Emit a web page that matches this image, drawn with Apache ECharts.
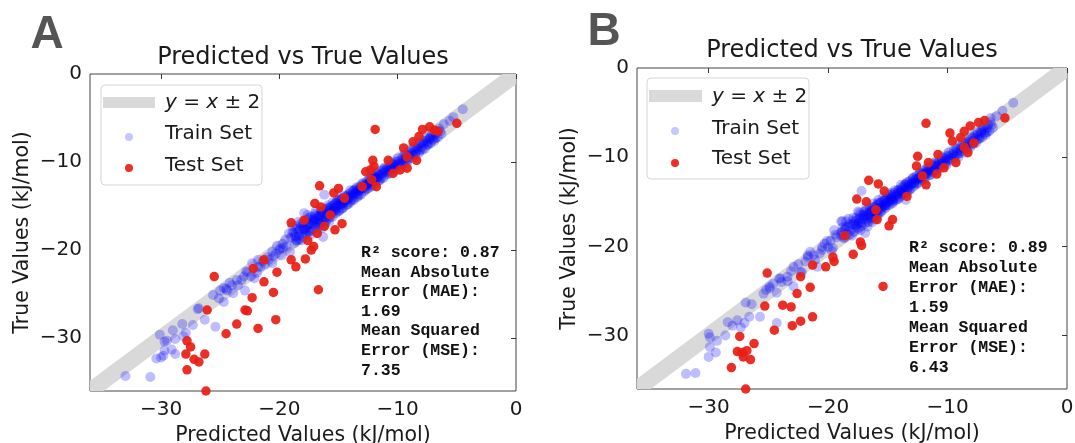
<!DOCTYPE html>
<html><head><meta charset="utf-8">
<script src="https://cdn.jsdelivr.net/npm/echarts@6/dist/echarts.min.js"></script>
<style>html,body{margin:0;padding:0;background:#fff}#c{width:1075px;height:443px}</style>
</head><body><div id="c"></div>
<script>
// ---------- data ----------
const axisRange = [-36, 0];
const tickValues = [-30, -20, -10, 0];
const bandEnds = [-36, 0];
const bandHalf = 1.15;
const panelLetters = ['A', 'B'];
const titleText = 'Predicted vs True Values';
const xLabel = 'Predicted Values (kJ/mol)';
const yLabel = 'True Values (kJ/mol)';
const legendNames = ['Train Set', 'Test Set'];
const statsA = ['R\u00b2 score: 0.87', 'Mean Absolute', 'Error (MAE):', '1.69', 'Mean Squared', 'Error (MSE):', '7.35'];
const statsB = ['R\u00b2 score: 0.89', 'Mean Absolute', 'Error (MAE):', '1.59', 'Mean Squared', 'Error (MSE):', '6.43'];

const trainA = [
[-33.0,-34.3],[-30.9,-34.4],[-30.4,-32.3],[-30.0,-32.2],[-29.8,-32.0],[-29.1,-31.3],[-28.8,-31.8],[-29.7,-31.4],
[-30.1,-29.6],[-29.7,-30.4],[-29.5,-30.3],[-29.0,-29.1],[-28.8,-30.1],[-28.1,-29.8],[-28.2,-28.4],[-27.9,-29.4],
[-27.3,-28.5],[-26.9,-26.7],[-26.8,-26.6],[-26.3,-27.9],[-25.4,-28.7],[-25.6,-25.1],[-25.1,-25.5],[-24.7,-24.3],
[-24.5,-24.4],[-24.7,-25.9],[-24.4,-24.6],[-24.0,-24.0],[-23.9,-24.9],[-23.6,-23.4],[-23.2,-23.4],[-23.0,-23.0],
[-22.9,-24.6],[-22.8,-22.4],[-22.7,-22.5],[-22.3,-21.5],[-22.1,-23.2],[-21.9,-22.6],[-21.8,-21.9],[-21.6,-21.9],
[-21.4,-21.3],[-21.0,-20.8],[-20.9,-21.1],[-20.6,-21.5],[-20.5,-20.7],[-20.3,-20.4],[-20.0,-20.0],[-19.9,-19.8],
[-19.7,-19.3],[-19.7,-19.8],[-19.4,-19.6],[-19.2,-18.1],[-19.1,-20.2],[-18.5,-18.9],[-18.6,-18.5],[-17.9,-15.8],
[-18.3,-17.7],[-16.3,-18.5],[-16.2,-13.7],[-5.3,-4.9],[-4.5,-4.0],[-5.6,-5.3],[-6.1,-5.7],
[-19.0,-18.6],[-18.8,-18.0],[-18.6,-18.9],[-18.5,-17.6],[-18.3,-18.3],[-18.2,-17.0],[-18.0,-18.5],[-18.0,-17.8],
[-17.9,-16.9],[-17.8,-18.2],[-17.7,-17.4],[-17.6,-16.5],[-17.5,-17.9],[-17.4,-17.1],[-17.3,-16.2],[-17.2,-17.6],
[-17.1,-16.8],[-17.0,-15.9],[-17.0,-17.3],[-16.9,-16.5],[-16.8,-18.0],[-16.7,-16.1],[-16.6,-17.0],[-16.5,-15.6],
[-16.4,-16.6],[-16.3,-15.9],[-16.2,-17.2],[-16.1,-16.3],[-16.0,-15.4],[-15.9,-16.0],[-15.8,-16.8],[-15.7,-15.5],
[-15.6,-15.0],[-15.5,-16.2],[-15.4,-15.3],[-15.3,-14.7],[-15.2,-15.8],[-15.1,-15.0],[-15.0,-14.4],[-14.9,-15.5],
[-14.8,-14.8],[-14.7,-14.1],[-14.6,-15.2],[-14.5,-14.5],[-14.4,-13.9],[-14.3,-14.9],[-14.2,-14.2],[-14.1,-13.6],
[-14.0,-14.6],[-13.9,-13.9],[-13.8,-13.3],[-13.7,-14.3],[-13.6,-13.6],[-13.5,-13.1],[-13.4,-14.0],[-13.3,-13.3],
[-13.2,-12.8],[-13.1,-13.7],[-13.0,-13.0],[-12.9,-12.5],[-12.8,-13.3],[-12.7,-12.7],[-12.6,-12.2],[-12.5,-13.0],
[-12.4,-12.4],[-12.3,-11.9],[-12.2,-12.8],[-12.1,-12.1],[-12.0,-11.6],[-11.9,-12.4],[-11.8,-11.8],[-11.7,-11.3],
[-11.6,-12.1],[-11.5,-11.5],[-11.3,-11.0],[-11.2,-11.8],[-11.0,-11.2],[-10.8,-10.6],[-10.7,-11.3],[-10.5,-10.8],
[-10.3,-10.3],[-10.2,-11.0],[-10.0,-10.4],[-9.8,-9.9],[-9.7,-10.5],[-9.5,-10.0],[-9.3,-9.5],[-9.2,-10.1],
[-9.0,-9.4],[-8.8,-9.0],[-8.7,-9.6],[-8.5,-8.9],[-8.3,-8.5],[-8.2,-9.0],[-8.0,-8.3],[-7.8,-7.9],
[-7.7,-8.5],[-7.5,-7.8],[-7.3,-7.4],[-7.2,-7.9],[-7.0,-7.1],[-6.8,-6.8],[-6.6,-7.2],[-6.4,-6.5],
[-18.7,-18.4],[-18.4,-17.9],[-18.1,-17.3],[-17.8,-17.6],[-17.5,-17.0],[-17.3,-17.8],[-17.1,-16.4],[-16.8,-16.9],
[-16.6,-16.2],[-16.4,-17.5],[-16.2,-15.8],[-16.0,-16.6],[-15.8,-15.2],[-15.6,-15.7],[-15.4,-14.9],[-15.2,-15.3],
[-15.0,-15.6],[-14.8,-14.3],[-14.6,-14.7],[-14.3,-14.4],[-14.0,-13.8],[-13.7,-13.5],[-13.4,-13.2],[-13.1,-12.9],
[-12.8,-12.6],[-12.5,-12.5],[-12.2,-11.9],[-11.9,-11.7],[-11.6,-11.6],[-11.3,-11.3],[-11.0,-10.9],[-10.6,-10.5],
[-10.3,-10.6],[-10.0,-9.9],[-9.6,-9.7],[-9.3,-9.2],[-9.0,-9.1],[-8.6,-8.6],[-8.3,-8.2],[-8.0,-7.9],
[-7.6,-7.6],[-7.3,-7.3],[-7.0,-7.4],[-17.6,-17.2],[-17.0,-16.6],[-16.5,-16.0],[-15.9,-15.6],[-15.3,-15.1],
[-14.7,-14.6],[-14.1,-14.0],[-13.5,-13.4],[-12.9,-12.8],[-12.3,-12.2],[-11.7,-11.8],[-11.1,-11.1],[-10.4,-10.2],
[-18.9,-17.3],[-18.7,-19.2],[-18.4,-16.8],[-18.1,-18.9],[-17.9,-17.6],[-17.6,-16.0],[-17.4,-18.3],[-17.2,-16.6],
[-16.9,-15.5],[-16.7,-17.4],[-16.5,-16.9],[-16.3,-15.3],[-16.1,-16.9],[-15.9,-14.9],[-15.7,-16.3],[-15.5,-14.6],
[-15.3,-15.5],[-15.1,-14.3],[-14.9,-14.1],[-14.7,-15.3],[-14.5,-13.8],[-14.2,-14.8],[-14.0,-13.2],[-13.8,-14.1],
[-13.5,-12.9],[-13.3,-13.8],[-13.0,-12.4],[-12.7,-13.1],[-12.4,-11.8],[-12.1,-12.6],[-11.8,-11.2],[-11.5,-12.1],
[-11.2,-10.7],[-10.9,-11.4],[-10.6,-10.1],[-10.3,-10.9],[-10.0,-9.6],[-9.7,-10.2],[-9.4,-9.1],[-9.1,-9.7],
[-8.8,-8.5],[-8.5,-9.2],[-8.2,-7.9],[-7.9,-8.6],[-7.6,-7.3],[-7.4,-8.0],[-7.1,-6.8],[-6.8,-7.3],
[-6.5,-6.2],[-6.3,-6.8],[-19.5,-18.8],[-19.8,-20.6],[-20.2,-19.5],[-20.6,-20.2],[-21.2,-21.6],[-21.8,-21.1],
[-22.4,-23.0],[-23.5,-24.0],[-24.2,-23.7],[-25.0,-24.6],
[-18.9,-18.0],[-18.6,-17.3],[-18.3,-18.8],[-18.0,-16.9],[-17.7,-18.0],[-17.5,-16.3],[-17.2,-17.1],[-16.9,-16.1],
[-16.7,-16.6],[-16.4,-15.7],[-16.2,-16.4],[-15.9,-15.2],[-15.7,-15.9],[-15.4,-15.6],[-15.2,-14.6],[-14.9,-14.8],
[-14.7,-14.9],[-14.4,-14.3],[-14.2,-13.8],[-13.9,-14.3],[-13.7,-13.2],[-13.4,-13.6],[-13.2,-13.2],[-12.9,-13.0],
[-12.6,-12.5],[-12.3,-12.6],[-12.0,-12.0],[-11.7,-11.5],[-11.4,-11.8],[-11.1,-10.8],[-10.8,-11.0],[-10.5,-10.5],
[-10.2,-10.0],[-9.9,-10.2],[-9.6,-9.4],[-9.3,-9.8],[-9.0,-8.8],[-8.7,-9.2],[-8.4,-8.4],[-8.1,-8.7],
[-7.8,-7.6],[-7.5,-8.1],[-7.2,-7.0],[-6.9,-7.6],[-6.7,-6.5]
];
const testA = [
[-11.9,-6.3],[-5.0,-5.6],[-25.5,-23.0],[-26.1,-26.8],[-27.8,-30.3],[-27.5,-31.0],[-27.9,-31.8],[-27.2,-32.4],
[-26.8,-32.7],[-26.3,-31.8],[-27.8,-33.6],[-26.2,-36.0],[-26.6,-36.2],[-24.5,-29.5],[-23.6,-28.4],[-22.9,-26.8],
[-22.7,-26.9],[-22.3,-25.4],[-21.8,-28.9],[-22.2,-22.1],[-21.3,-23.6],[-21.3,-21.1],[-20.5,-24.8],[-20.3,-27.9],
[-20.2,-22.5],[-19.0,-21.1],[-18.6,-21.9],[-17.8,-21.0],[-17.3,-20.0],[-17.1,-19.6],[-16.7,-24.5],[-19.0,-16.9],
[-17.6,-18.9],[-16.6,-12.7],[-17.0,-14.7],[-16.5,-15.1],[-15.7,-16.0],[-14.7,-17.0],[-15.3,-17.7],[-16.2,-17.3],
[-15.4,-13.5],[-15.0,-13.0],[-14.5,-14.1],[-17.9,-16.6],[-16.8,-18.1],[-12.0,-10.5],[-11.8,-12.8],[-12.2,-12.0],
[-12.3,-10.9],[-12.1,-9.8],[-10.8,-9.8],[-10.4,-11.3],[-9.8,-10.9],[-9.2,-10.7],[-9.5,-8.4],[-9.2,-9.4],
[-8.4,-9.8],[-8.7,-7.7],[-7.3,-6.0],[-6.9,-6.4],[-7.9,-6.3],[-8.2,-7.1],[-6.6,-6.5],[-13.0,-12.8],[-12.7,-11.1]
];

const trainB = [
[-31.9,-34.3],[-31.1,-34.2],[-30.0,-32.4],[-29.9,-31.3],[-29.4,-31.9],[-30.0,-29.8],[-29.9,-30.2],[-29.3,-30.6],
[-28.6,-30.0],[-28.4,-28.5],[-28.0,-28.9],[-27.6,-28.3],[-27.0,-28.6],[-27.3,-29.1],[-26.6,-27.9],[-25.7,-27.9],
[-24.3,-28.6],[-26.4,-26.5],[-25.4,-25.3],[-25.2,-24.9],[-24.6,-24.2],[-24.3,-25.2],[-23.9,-24.0],[-23.4,-23.4],
[-22.9,-24.5],[-22.9,-22.3],[-22.2,-22.9],[-21.7,-21.2],[-21.5,-20.6],[-20.9,-22.3],[-20.7,-20.8],[-20.3,-19.7],
[-19.6,-20.2],[-19.5,-18.2],[-18.9,-18.5],[-18.9,-17.2],[-17.2,-13.8],[-16.9,-18.5],[-13.5,-14.8],[-4.5,-3.9],
[-5.4,-4.8],[-6.4,-5.6],[-5.9,-5.4],[-26.9,-26.3],[-24.9,-24.7],[-24.0,-23.6],[-23.1,-22.8],[-22.5,-22.0],
[-21.9,-21.7],[-21.2,-21.0],[-20.5,-20.4],[-20.0,-20.1],[-19.8,-19.4],[-19.3,-19.0],[-18.7,-19.1],[-18.3,-17.8],
[-18.9,-18.8],[-18.6,-18.1],[-18.4,-18.6],[-18.2,-17.5],[-18.1,-18.2],[-17.9,-17.1],[-17.8,-18.4],[-17.7,-17.7],
[-17.6,-16.8],[-17.5,-18.0],[-17.4,-17.3],[-17.3,-16.4],[-17.2,-17.7],[-17.1,-16.9],[-17.0,-16.1],[-16.9,-17.4],
[-16.8,-16.6],[-16.7,-17.8],[-16.6,-16.2],[-16.5,-15.7],[-16.4,-16.8],[-16.3,-16.0],[-16.2,-17.0],[-16.1,-15.6],
[-16.0,-16.3],[-15.9,-15.3],[-15.8,-16.5],[-15.7,-15.7],[-15.6,-15.1],[-15.5,-16.0],[-15.4,-15.4],[-15.3,-14.8],
[-15.2,-15.7],[-15.1,-15.1],[-15.0,-14.5],[-14.9,-15.4],[-14.8,-14.8],[-14.7,-14.2],[-14.6,-15.0],[-14.5,-14.5],
[-14.4,-14.0],[-14.3,-14.8],[-14.2,-14.3],[-14.1,-13.7],[-14.0,-14.5],[-13.9,-13.9],[-13.8,-13.4],[-13.7,-14.2],
[-13.6,-13.6],[-13.5,-13.0],[-13.4,-13.9],[-13.3,-13.3],[-13.2,-12.7],[-13.1,-13.6],[-13.0,-13.0],[-12.9,-12.4],
[-12.8,-13.2],[-12.7,-12.6],[-12.6,-12.1],[-12.5,-12.9],[-12.4,-12.3],[-12.3,-11.8],[-12.2,-12.6],[-12.1,-12.0],
[-12.0,-11.5],[-11.9,-12.3],[-11.8,-11.7],[-11.6,-11.2],[-11.5,-12.0],[-11.4,-11.4],[-11.2,-10.9],[-11.1,-11.6],
[-10.9,-11.0],[-10.7,-10.5],[-10.6,-11.2],[-10.4,-10.7],[-10.2,-10.2],[-10.1,-10.9],[-9.9,-10.3],[-9.7,-9.8],
[-9.6,-10.4],[-9.4,-9.9],[-9.2,-9.4],[-9.1,-10.0],[-8.9,-9.3],[-8.7,-8.9],[-8.6,-9.5],[-8.4,-8.8],
[-8.2,-8.4],[-8.1,-8.9],[-7.9,-8.2],[-7.7,-7.8],[-7.6,-8.4],[-7.4,-7.7],[-7.2,-7.3],[-7.1,-7.8],
[-6.9,-7.0],[-6.7,-6.7],[-6.5,-7.1],[-6.3,-6.4],
[-18.8,-18.3],[-18.5,-17.8],[-18.0,-17.6],[-17.7,-17.2],[-17.4,-16.9],[-17.2,-17.4],[-17.0,-16.5],[-16.7,-16.9],
[-16.5,-16.3],[-16.3,-17.3],[-16.1,-15.9],[-15.9,-16.4],[-15.7,-15.2],[-15.5,-15.6],[-15.3,-14.9],[-15.1,-15.4],
[-14.9,-15.0],[-14.7,-14.4],[-14.5,-14.8],[-14.2,-14.1],[-13.9,-13.7],[-13.6,-13.4],[-13.3,-13.1],[-13.0,-12.8],
[-12.7,-12.5],[-12.4,-12.4],[-12.1,-11.8],[-11.8,-11.9],[-11.5,-11.5],[-11.2,-11.2],[-10.9,-10.8],[-10.5,-10.4],
[-10.2,-10.5],[-9.9,-9.8],[-9.5,-9.6],[-9.2,-9.1],[-8.9,-9.0],[-8.5,-8.5],[-8.2,-8.1],[-7.9,-7.8],
[-7.5,-7.5],[-7.2,-7.1],[-6.9,-7.3],[-17.5,-17.5],[-16.9,-16.7],[-16.4,-16.1],[-15.8,-15.8],[-15.2,-15.2],
[-14.6,-14.6],[-14.0,-13.9],[-13.4,-13.5],[-12.8,-12.9],[-12.2,-12.2],[-11.6,-11.7],[-11.0,-11.0],[-10.3,-10.1],
[-18.8,-17.2],[-18.6,-19.0],[-18.3,-16.9],[-18.0,-18.8],[-17.8,-17.5],[-17.5,-16.1],[-17.3,-18.2],[-17.1,-16.5],
[-16.8,-15.6],[-16.6,-17.3],[-16.4,-16.8],[-16.2,-15.2],[-16.0,-16.8],[-15.8,-14.8],[-15.6,-16.2],[-15.4,-14.5],
[-15.2,-15.4],[-15.0,-14.2],[-14.8,-14.0],[-14.6,-15.2],[-14.4,-13.7],[-14.1,-14.7],[-13.9,-13.1],[-13.7,-14.0],
[-13.4,-12.8],[-13.2,-13.7],[-12.9,-12.3],[-12.6,-13.0],[-12.3,-11.7],[-12.0,-12.5],[-11.7,-11.1],[-11.4,-12.0],
[-11.1,-10.6],[-10.8,-11.3],[-10.5,-10.0],[-10.2,-10.8],[-9.9,-9.5],[-9.6,-10.1],[-9.3,-9.0],[-9.0,-9.6],
[-8.7,-8.4],[-8.4,-9.1],[-8.1,-7.8],[-7.8,-8.5],[-7.5,-7.2],[-7.3,-7.9],[-7.0,-6.7],[-6.7,-7.2],
[-6.4,-6.1],[-6.2,-6.7],[-19.4,-18.7],[-19.7,-20.5],[-20.1,-19.4],[-20.5,-20.1],[-21.1,-21.5],[-21.7,-21.0],
[-22.3,-22.9],[-23.4,-23.9],[-24.1,-23.6],[-24.9,-24.5],
[-18.8,-17.9],[-18.5,-17.2],[-18.2,-18.7],[-17.9,-16.8],[-17.6,-17.9],[-17.4,-16.2],[-17.1,-17.0],[-16.8,-16.0],
[-16.6,-16.5],[-16.3,-15.6],[-16.1,-16.3],[-15.8,-15.1],[-15.6,-15.8],[-15.3,-15.5],[-15.1,-14.5],[-14.8,-14.7],
[-14.6,-14.8],[-14.3,-14.2],[-14.1,-13.7],[-13.8,-14.2],[-13.6,-13.1],[-13.3,-13.5],[-13.1,-13.1],[-12.8,-12.9],
[-12.5,-12.4],[-12.2,-12.5],[-11.9,-11.9],[-11.6,-11.4],[-11.3,-11.7],[-11.0,-10.7],[-10.7,-10.9],[-10.4,-10.4],
[-10.1,-9.9],[-9.8,-10.1],[-9.5,-9.3],[-9.2,-9.7],[-8.9,-8.7],[-8.6,-9.1],[-8.3,-8.3],[-8.0,-8.6],
[-7.7,-7.5],[-7.4,-8.0],[-7.1,-6.9],[-6.8,-7.5],[-6.6,-6.4]
];
const testB = [
[-11.8,-6.2],[-5.2,-5.6],[-25.1,-23.0],[-25.3,-26.7],[-23.8,-26.6],[-23.1,-26.8],[-22.6,-25.3],[-22.3,-23.4],
[-21.5,-24.6],[-21.3,-27.9],[-22.3,-28.4],[-23.0,-28.9],[-24.5,-29.4],[-27.4,-30.1],[-27.6,-31.8],[-27.2,-31.9],
[-26.8,-31.7],[-27.1,-32.4],[-26.2,-30.9],[-26.5,-32.7],[-28.1,-33.6],[-28.2,-36.1],[-26.9,-36.0],[-25.5,-36.1],
[-21.3,-22.1],[-20.2,-22.3],[-19.6,-21.2],[-19.5,-21.7],[-17.9,-20.9],[-17.3,-19.5],[-17.2,-19.9],[-15.4,-24.5],
[-16.6,-12.6],[-15.8,-13.0],[-17.6,-14.7],[-16.8,-15.0],[-14.6,-17.0],[-14.9,-17.7],[-15.9,-17.0],[-15.3,-13.8],
[-12.5,-9.9],[-11.8,-13.1],[-12.1,-12.1],[-12.6,-11.0],[-11.6,-10.6],[-10.8,-9.7],[-10.3,-11.2],[-9.3,-10.6],
[-9.6,-8.2],[-8.9,-7.8],[-8.6,-8.9],[-8.3,-9.5],[-7.8,-8.4],[-8.1,-6.5],[-7.4,-6.1],[-6.9,-5.9],
[-8.6,-7.1],[-9.8,-7.3],[-18.6,-18.8],[-16.0,-15.9],[-13.4,-14.4],[-10.9,-11.9]
];

// ---------- helpers ----------
function minusFmt(v) { return v < 0 ? '\u2212' + Math.abs(v) : String(v); }
function clipPoly(pts, xmin, xmax, ymin, ymax) {
  const edges = [
    [p => p[0] >= xmin, (a, b) => { const t = (xmin - a[0]) / (b[0] - a[0]); return [xmin, a[1] + t * (b[1] - a[1])]; }],
    [p => p[0] <= xmax, (a, b) => { const t = (xmax - a[0]) / (b[0] - a[0]); return [xmax, a[1] + t * (b[1] - a[1])]; }],
    [p => p[1] >= ymin, (a, b) => { const t = (ymin - a[1]) / (b[1] - a[1]); return [a[0] + t * (b[0] - a[0]), ymin]; }],
    [p => p[1] <= ymax, (a, b) => { const t = (ymax - a[1]) / (b[1] - a[1]); return [a[0] + t * (b[0] - a[0]), ymax]; }]
  ];
  let out = pts;
  for (const [inside, inter] of edges) {
    const inp = out; out = [];
    for (let i = 0; i < inp.length; i++) {
      const cur = inp[i], prev = inp[(i + inp.length - 1) % inp.length];
      if (inside(cur)) { if (!inside(prev)) out.push(inter(prev, cur)); out.push(cur); }
      else if (inside(prev)) out.push(inter(prev, cur));
    }
  }
  return out;
}
function bandRender(params, api) {
  const x0 = bandEnds[0], x1 = bandEnds[1], h = bandHalf;
  const poly = clipPoly([[x0, x0 - h], [x1, x1 - h], [x1, x1 + h], [x0, x0 + h]],
    axisRange[0], axisRange[1], axisRange[0], axisRange[1]);
  return { type: 'polygon', shape: { points: poly.map(p => api.coord(p)) }, style: { fill: '#d9d9d9' } };
}

const FONT = 'DejaVu Sans';
const TXT = '#1a1a1a';
const grids = [
  { left: 90, top: 74, width: 426, height: 317 },
  { left: 637, top: 68, width: 430, height: 321 }
];
function xAx(i) {
  return {
    gridIndex: i, type: 'value', min: axisRange[0], max: axisRange[1],
    axisLine: { show: false }, splitLine: { show: false },
    axisTick: { show: true, length: 5, customValues: tickValues, lineStyle: { color: '#333' } },
    axisLabel: { customValues: tickValues, formatter: minusFmt, fontFamily: FONT, fontSize: 20, color: TXT, margin: 9 },
    name: xLabel, nameLocation: 'middle', nameGap: 31,
    nameTextStyle: { fontFamily: FONT, fontSize: 20.5, color: TXT }
  };
}
function yAx(i) {
  return {
    gridIndex: i, type: 'value', min: axisRange[0], max: axisRange[1],
    axisLine: { show: false }, splitLine: { show: false },
    axisTick: { show: true, length: 5, customValues: tickValues, lineStyle: { color: '#333' } },
    axisLabel: { customValues: tickValues, formatter: minusFmt, fontFamily: FONT, fontSize: 20, color: TXT, margin: 8 },
    name: yLabel, nameLocation: 'middle', nameGap: 57,
    nameTextStyle: { fontFamily: FONT, fontSize: 20.5, color: TXT }
  };
}
function seriesFor(i, train, test) {
  return [
    { type: 'custom', xAxisIndex: i, yAxisIndex: i, data: [[0]], renderItem: bandRender, z: 1, silent: true },
    { type: 'scatter', name: legendNames[0], xAxisIndex: i, yAxisIndex: i, data: train, symbolSize: 10, z: 2,
      itemStyle: { color: '#0000ff', opacity: 0.26 } },
    { type: 'scatter', name: legendNames[1], xAxisIndex: i, yAxisIndex: i, data: test, symbolSize: 9.5, z: 3,
      itemStyle: { color: '#e81d15', opacity: 0.92 } }
  ];
}

const legendBoxes = [
  { box: [101, 85, 161, 100], sw: [103, 97, 52, 11], tx: 165, ty: [103, 134, 166], cx: 129, cy: [137, 168] },
  { box: [647, 78, 162, 101], sw: [649, 90, 53, 12], tx: 712, ty: [97, 129, 159], cx: 675, cy: [131, 163] }
];
const statsPos = [{ x: 361, y: 243, lh: 19.6, lines: statsA }, { x: 909, y: 238, lh: 20, lines: statsB }];
const titlePos = [[303, 58], [852, 51]];
const letterPos = [[47, 35], [604, 32]];

const graphics = [];
for (let i = 0; i < 2; i++) {
  const L = legendBoxes[i];
  graphics.push({ type: 'rect', shape: { x: L.box[0], y: L.box[1], width: L.box[2], height: L.box[3], r: 4 },
    style: { fill: 'rgba(255,255,255,0.8)', stroke: '#d5d5d5', lineWidth: 1 }, z: 50 });
  graphics.push({ type: 'rect', shape: { x: L.sw[0], y: L.sw[1], width: L.sw[2], height: L.sw[3] },
    style: { fill: '#d9d9d9' }, z: 51 });
  graphics.push({ type: 'text', x: L.tx, y: L.ty[0], z: 51, style: {
    text: '{i|y} = {i|x} \u00b1 2', fill: TXT, font: '20px "' + FONT + '"', verticalAlign: 'middle',
    rich: { i: { fontStyle: 'italic', fontFamily: FONT, fontSize: 20, fill: TXT } } } });
  graphics.push({ type: 'text', x: L.tx, y: L.ty[1], z: 51, style: { text: legendNames[0], fill: TXT, font: '20px "' + FONT + '"', verticalAlign: 'middle' } });
  graphics.push({ type: 'text', x: L.tx, y: L.ty[2], z: 51, style: { text: legendNames[1], fill: TXT, font: '20px "' + FONT + '"', verticalAlign: 'middle' } });
  graphics.push({ type: 'circle', shape: { cx: L.cx, cy: L.cy[0], r: 4 }, style: { fill: 'rgba(0,0,255,0.22)' }, z: 51 });
  graphics.push({ type: 'circle', shape: { cx: L.cx, cy: L.cy[1], r: 4 }, style: { fill: 'rgba(232,29,21,0.92)' }, z: 51 });
  const S = statsPos[i];
  graphics.push({ type: 'text', x: S.x, y: S.y, z: 40, style: {
    text: S.lines.join('\n'), fill: '#111', font: 'bold 16.5px "Liberation Mono"', lineHeight: S.lh, verticalAlign: 'top' } });
  graphics.push({ type: 'text', x: titlePos[i][0], y: titlePos[i][1], style: {
    text: titleText, fill: TXT, font: '24px "' + FONT + '"', align: 'center', verticalAlign: 'middle' } });
  graphics.push({ type: 'text', x: letterPos[i][0], y: letterPos[i][1], style: {
    text: panelLetters[i], fill: '#555', font: 'bold 46px "Liberation Sans"', align: 'center', verticalAlign: 'middle' } });
}

const chart = echarts.init(document.getElementById('c'), null, { renderer: 'canvas' });
chart.setOption({
  animation: false,
  backgroundColor: '#fff',
  grid: grids.map(g => Object.assign({ show: true, borderColor: '#444', borderWidth: 1, backgroundColor: 'transparent',
    containLabel: false, outerBoundsMode: 'none' }, g)),
  xAxis: [xAx(0), xAx(1)],
  yAxis: [yAx(0), yAx(1)],
  series: [...seriesFor(0, trainA, testA), ...seriesFor(1, trainB, testB)],
  graphic: graphics
});
</script></body></html>
